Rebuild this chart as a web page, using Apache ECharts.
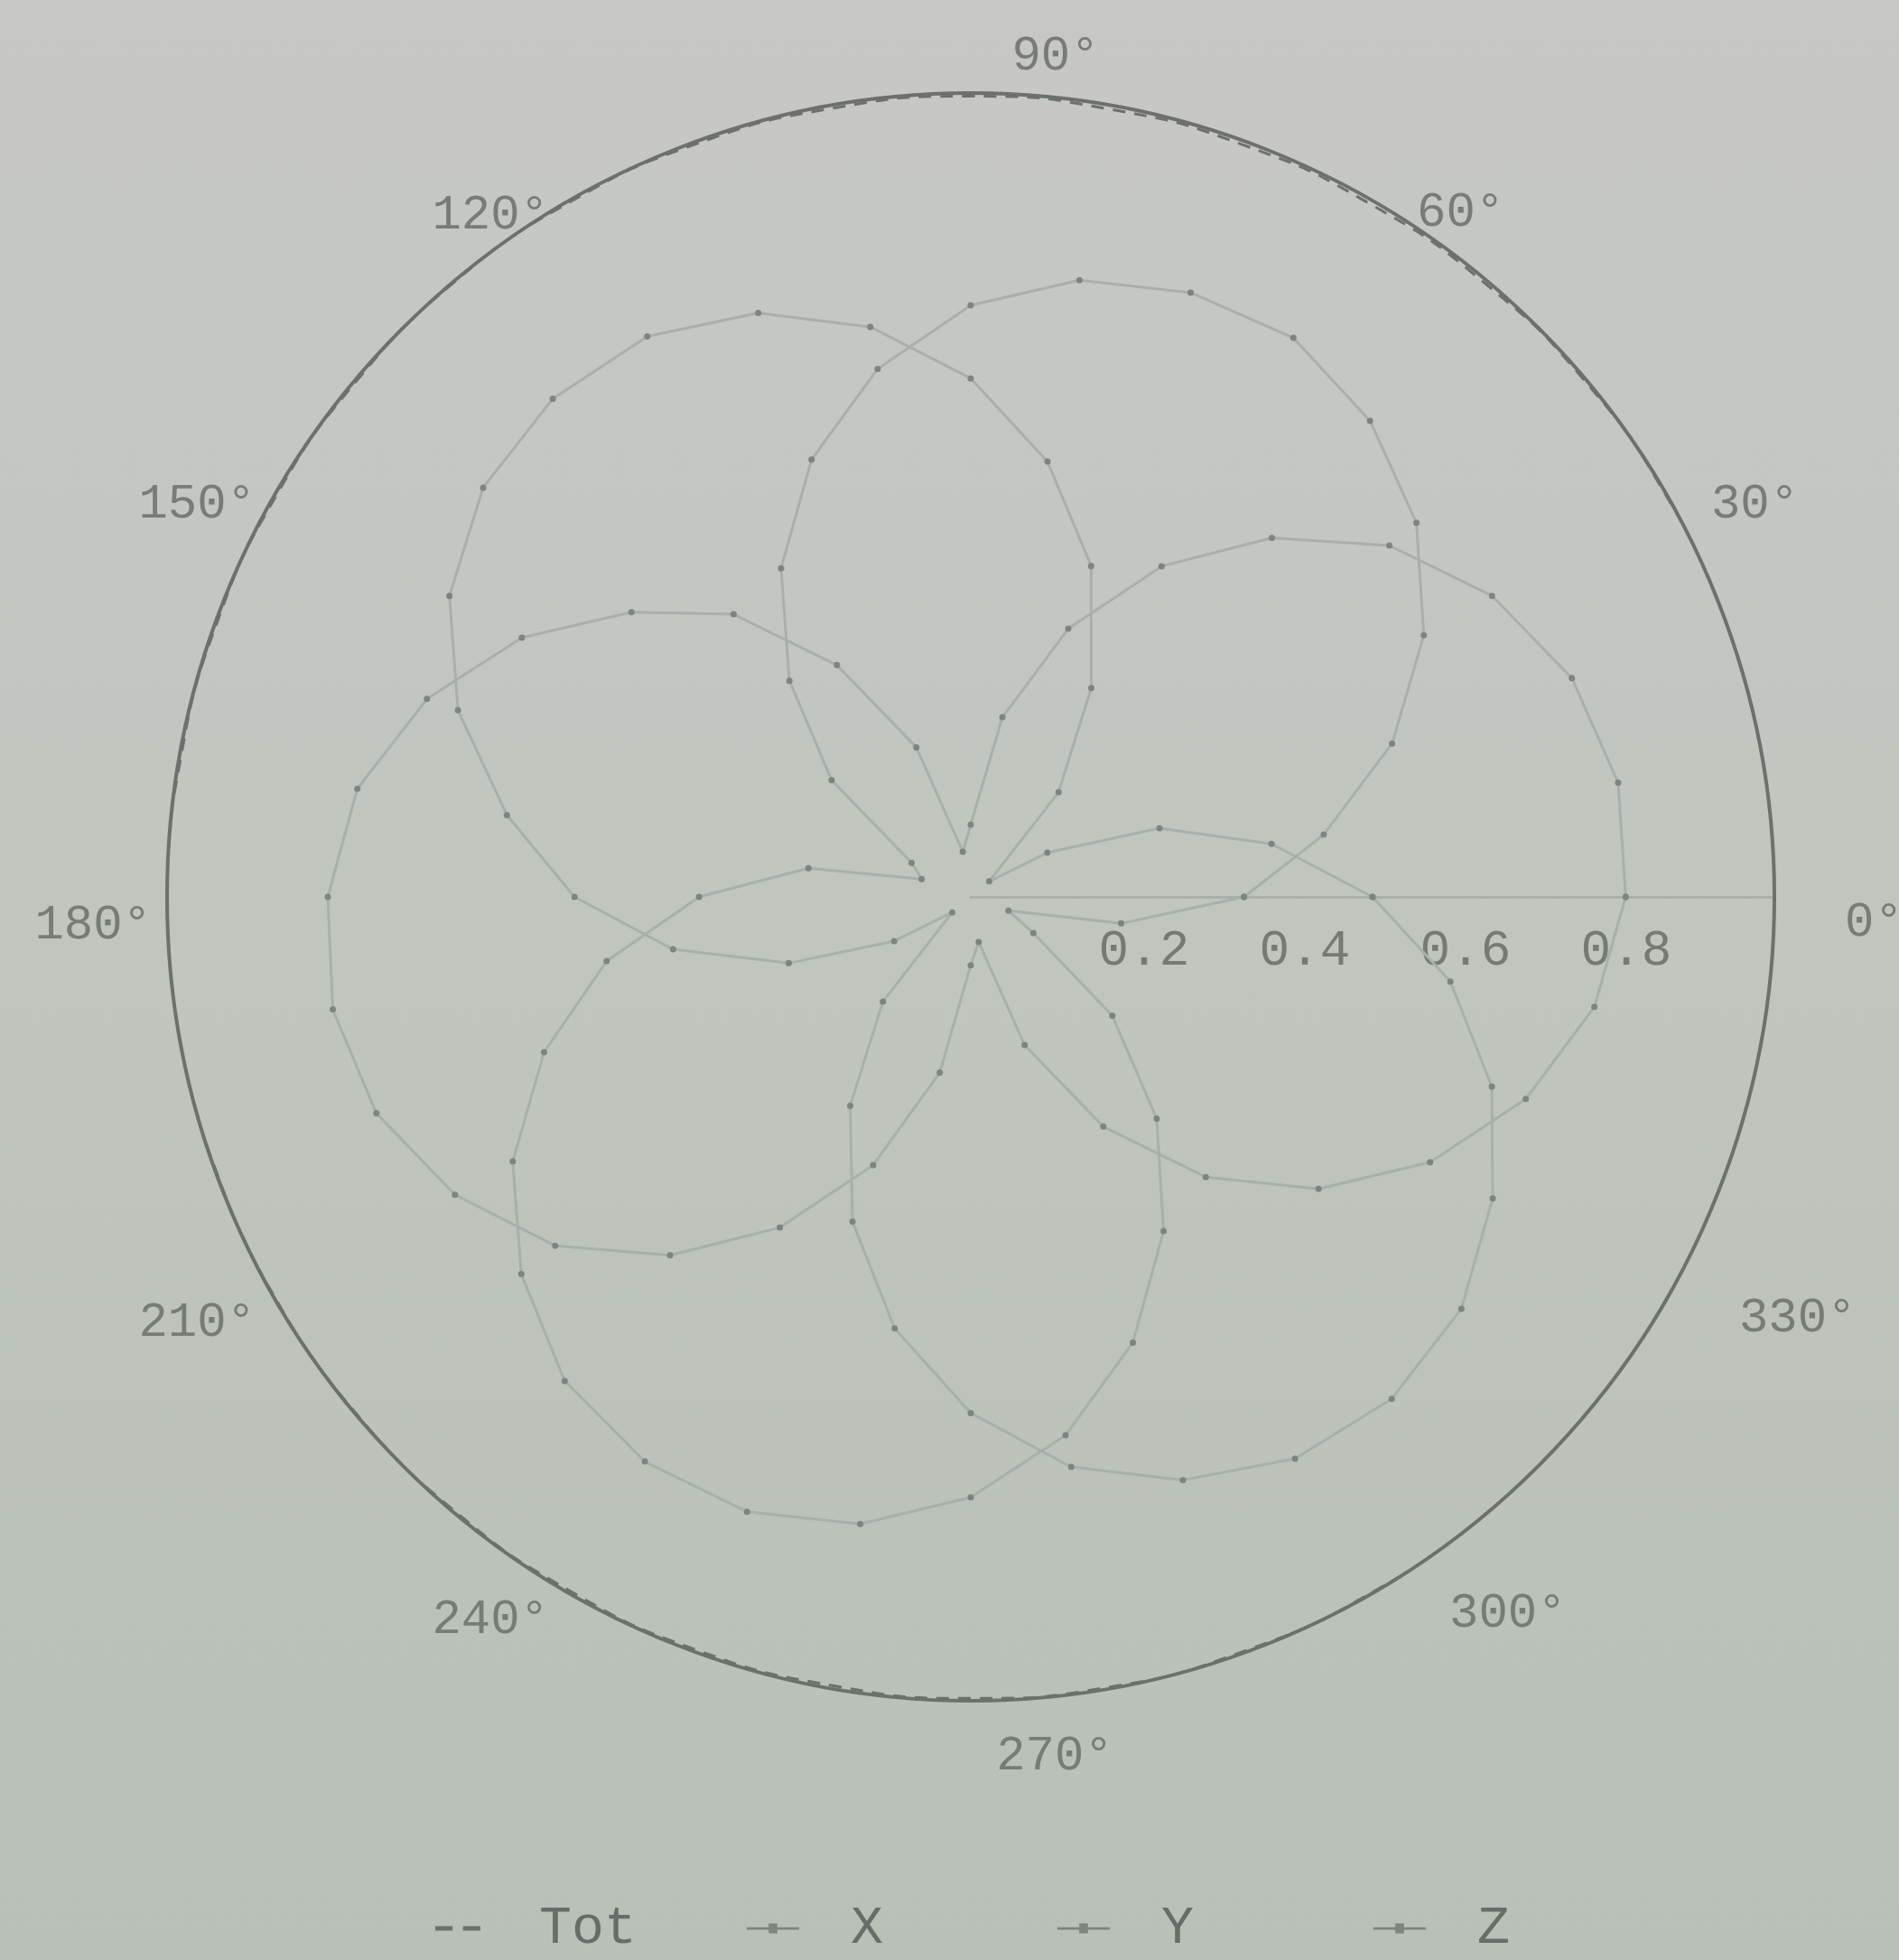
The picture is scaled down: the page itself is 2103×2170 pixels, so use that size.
<!DOCTYPE html>
<html>
<head>
<meta charset="utf-8">
<script src="https://cdn.jsdelivr.net/npm/echarts@6/dist/echarts.min.js"></script>
<style>
  html, body { margin: 0; padding: 0; background: #c1c5bf; }
  #chart { width: 2103px; height: 2170px; }
</style>
</head>
<body>
<div id="chart"></div>
<script>
// angle in degrees, one reading every 10 deg
const angles = [0, 10, 20, 30, 40, 50, 60, 70, 80, 90, 100, 110, 120, 130, 140, 150, 160, 170, 180,
  190, 200, 210, 220, 230, 240, 250, 260, 270, 280, 290, 300, 310, 320, 330, 340, 350, 360];
const totVals = [1.004, 1.002, 1.001, 0.999, 0.998, 0.996, 0.995, 0.995, 0.995, 0.996, 0.996, 0.997, 0.998,
  0.999, 0.998, 0.998, 0.998, 0.998, 1.000, 1.000, 0.999, 0.999, 0.999, 0.998, 0.997, 0.997, 0.996,
  0.997, 0.998, 0.998, 0.999, 1.000, 1.001, 1.001, 1.002, 1.003, 1.004];
const xVals = [0.815, 0.818, 0.796, 0.749, 0.680, 0.583, 0.475, 0.355, 0.227, 0.090, 0.057, 0.198, 0.333,
  0.459, 0.551, 0.645, 0.720, 0.775, 0.800, 0.806, 0.787, 0.741, 0.675, 0.582, 0.475, 0.355, 0.222,
  0.085, 0.057, 0.196, 0.330, 0.455, 0.565, 0.660, 0.735, 0.788, 0.815];
const yVals = [0.340, 0.446, 0.558, 0.651, 0.724, 0.773, 0.803, 0.800, 0.779, 0.736, 0.667, 0.579, 0.472,
  0.351, 0.226, 0.085, 0.065, 0.205, 0.338, 0.460, 0.565, 0.658, 0.730, 0.786, 0.811, 0.814, 0.792,
  0.747, 0.680, 0.590, 0.480, 0.360, 0.230, 0.090, 0.050, 0.190, 0.340];
const zVals = [0.500, 0.380, 0.250, 0.110, 0.030, 0.170, 0.300, 0.438, 0.550, 0.645, 0.720, 0.773, 0.805,
  0.809, 0.792, 0.749, 0.679, 0.586, 0.493, 0.376, 0.241, 0.110, 0.030, 0.170, 0.300, 0.430, 0.545,
  0.642, 0.720, 0.772, 0.807, 0.815, 0.797, 0.750, 0.690, 0.606, 0.500];
const legendNames = ['Tot', 'X', 'Y', 'Z'];
const radiusTicks = [0.2, 0.4, 0.6, 0.8];

const font = 'Liberation Mono';
const pairs = (vals) => vals.map((r, i) => [r, angles[i]]);

// nudges for the degree labels (padding: top, right, bottom, left) so they sit like the printed ones
const labelPad = {
  0: [58, 0, 0, 154], 30: [0, 0, 0, 115], 60: [0, 0, 25, 87], 90: [0, 0, 89, 188],
  120: [0, 60, 22, 0], 150: [0, 87, 0, 0], 180: [64, 93, 0, 0], 210: [38, 87, 0, 0],
  240: [69, 60, 0, 0], 270: [111, 0, 0, 186], 300: [62, 0, 0, 123], 330: [33, 0, 0, 146]
};
const angleRich = {};
Object.keys(labelPad).forEach((k) => {
  angleRich['a' + k] = { padding: labelPad[k], fontFamily: font, fontSize: 54, color: '#777c77' };
});

const dashIcon = 'path://M0,0 L10,0 L10,3 L0,3 Z M16,0 L26,0 L26,3 L16,3 Z';
const markIcon = 'path://M0,5 L24,5 L24,7 L0,7 Z M10,2 L14,2 L14,10 L10,10 Z';
const legendLeft = [477, 822, 1166, 1516];

function petalSeries(name, vals) {
  return {
    name: name,
    type: 'line',
    coordinateSystem: 'polar',
    data: pairs(vals),
    symbol: 'circle',
    symbolSize: 7,
    itemStyle: { color: '#7e847f' },
    lineStyle: { color: '#a9afaa', width: 3 },
    clip: false
  };
}

const chart = echarts.init(document.getElementById('chart'));
chart.setOption({
  animation: false,
  backgroundColor: {
    type: 'linear', x: 0, y: 0, x2: 0, y2: 1,
    colorStops: [
      { offset: 0, color: '#c7c8c5' },
      { offset: 0.5, color: '#c0c5be' },
      { offset: 1, color: '#b9c0b8' }
    ]
  },
  polar: {
    center: [1075, 993],
    radius: 890
  },
  angleAxis: {
    type: 'value',
    min: 0,
    max: 360,
    interval: 30,
    startAngle: 0,
    clockwise: false,
    axisLine: { lineStyle: { color: '#6c716c', width: 4 } },
    axisTick: { show: false },
    splitLine: { show: false },
    axisLabel: {
      margin: -76,
      fontFamily: font,
      fontSize: 54,
      color: '#777c77',
      formatter: (v) => (v === 360 ? '' : '{a' + v + '|' + v + '°}'),
      rich: angleRich
    }
  },
  radiusAxis: {
    type: 'value',
    min: 0,
    max: 1,
    interval: 0.2,
    axisLine: { lineStyle: { color: '#abb1aa', width: 3 } },
    axisTick: { show: false },
    splitLine: { show: false },
    axisLabel: {
      margin: -88,
      fontFamily: font,
      fontSize: 56,
      color: '#757a75',
      padding: [0, 0, 0, 28],
      formatter: (v) => (radiusTicks.indexOf(Math.round(v * 10) / 10) >= 0 ? v.toFixed(1) : '')
    }
  },
  legend: legendNames.map((name, i) => ({
    data: [{ name: name, icon: i === 0 ? dashIcon : markIcon }],
    left: legendLeft[i],
    top: 2100,
    symbolKeepAspect: false,
    itemWidth: i === 0 ? 50 : 58,
    itemHeight: i === 0 ? 5 : 11,
    textStyle: {
      fontFamily: font,
      fontSize: 60,
      color: '#676d68',
      padding: [0, 0, 0, i === 0 ? 60 : 52]
    }
  })),
  series: [
    {
      name: 'Tot',
      type: 'line',
      coordinateSystem: 'polar',
      data: pairs(totVals),
      symbol: 'none',
      smooth: true,
      lineStyle: { color: '#6c716c', width: 3, type: [14, 10] },
      itemStyle: { color: '#6c716c' },
      clip: false
    },
    petalSeries('X', xVals),
    petalSeries('Y', yVals),
    petalSeries('Z', zVals)
  ]
});
</script>
</body>
</html>
